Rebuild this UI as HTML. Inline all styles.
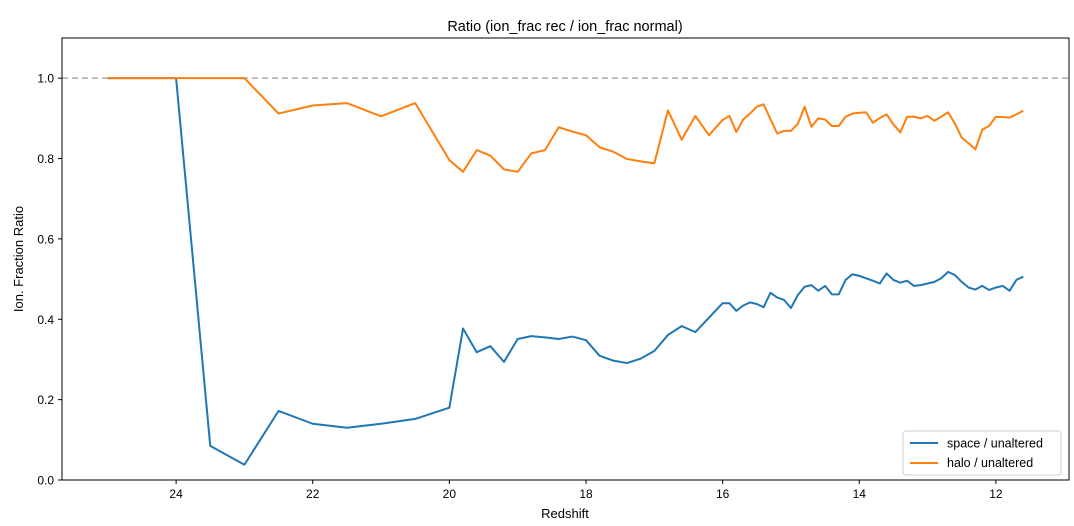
<!DOCTYPE html>
<html><head><meta charset="utf-8"><style>
body{margin:0;background:#fff;}
svg{display:block;font-family:"Liberation Sans","DejaVu Sans",sans-serif;}
</style></head><body>
<svg id="chart" width="1074" height="526" viewBox="0 0 1074 526" xmlns="http://www.w3.org/2000/svg">
<rect width="1074" height="526" fill="#fff"/>
<text x="565" y="31" text-anchor="middle" font-size="14.5">Ratio (ion_frac rec / ion_frac normal)</text>
<g id="axes"></g>
<g id="plot"></g>
<rect x="62" y="38" width="1007" height="442" fill="none" stroke="#000" stroke-width="1"/>
<text x="565" y="518" text-anchor="middle" font-size="13">Redshift</text>
<text transform="translate(23,259) rotate(-90)" text-anchor="middle" font-size="13">Ion. Fraction Ratio</text>
<g>
<rect x="903" y="431" width="158" height="44" rx="3" fill="#fff" stroke="#ccc" opacity="0.9"/>
<line x1="910" y1="443" x2="938" y2="443" stroke="#1f77b4" stroke-width="2"/>
<text x="947" y="447.5" font-size="12.5">space / unaltered</text>
<line x1="910" y1="463" x2="938" y2="463" stroke="#ff7f0e" stroke-width="2"/>
<text x="947" y="467" font-size="12.5">halo / unaltered</text>
</g>
</svg>
<script>
const redshift=[25,24.5,24,23.5,23,22.5,22,21.5,21,20.5,20,
19.8,19.6,19.4,19.2,19.0,18.8,18.6,18.4,18.2,18.0,17.8,17.6,17.4,17.2,17.0,16.8,16.6,16.4,16.2,
16.0,15.9,15.8,15.7,15.6,15.5,15.4,15.3,15.2,15.1,15.0,14.9,14.8,14.7,14.6,14.5,14.4,14.3,14.2,14.1,
14.0,13.9,13.8,13.7,13.6,13.5,13.4,13.3,13.2,13.1,13.0,12.9,12.8,12.7,12.6,12.5,12.4,12.3,12.2,12.1,
12.0,11.9,11.8,11.7,11.6];
const spaceRatio=[1,1,1,0.085,0.038,0.172,0.14,0.13,0.14,0.152,0.18,
0.377,0.318,0.333,0.294,0.351,0.358,0.355,0.351,0.357,0.348,0.309,0.297,0.291,0.302,0.321,0.361,0.383,0.368,0.404,
0.44,0.44,0.421,0.434,0.442,0.438,0.43,0.466,0.454,0.448,0.428,0.46,0.481,0.485,0.471,0.483,0.462,0.462,0.498,0.512,
0.508,0.502,0.496,0.489,0.514,0.498,0.491,0.496,0.483,0.485,0.489,0.493,0.502,0.518,0.51,0.493,0.479,0.474,0.483,0.473,
0.479,0.483,0.471,0.498,0.506];
const haloRatio=[1,1,1,1,1,0.912,0.932,0.938,0.905,0.938,0.796,
0.767,0.821,0.807,0.773,0.767,0.813,0.821,0.878,0.867,0.858,0.828,0.817,0.799,0.793,0.788,0.92,0.847,0.906,0.858,
0.896,0.906,0.866,0.897,0.912,0.929,0.935,0.898,0.862,0.869,0.869,0.886,0.929,0.879,0.9,0.897,0.881,0.881,0.904,0.912,
0.914,0.915,0.889,0.901,0.91,0.885,0.865,0.904,0.904,0.9,0.906,0.894,0.904,0.915,0.887,0.852,0.838,0.823,0.872,0.881,
0.904,0.903,0.902,0.91,0.919];
const xTicks=[24,22,20,18,16,14,12];
const yTicks=[0,0.2,0.4,0.6,0.8,1.0];
const refLine=[1.0];

const NS="http://www.w3.org/2000/svg";
const L=62,R=1069,T=38,B=480;
const xMin=25.67,xMax=10.93,yMin=0,yMax=1.1;
function xs(v){return L+(xMin-v)/(xMin-xMax)*(R-L);}
function ys(v){return B-(v-yMin)/(yMax-yMin)*(B-T);}
function mk(tag,attrs,parent){const e=document.createElementNS(NS,tag);for(const k in attrs)e.setAttribute(k,attrs[k]);parent.appendChild(e);return e;}
const axes=document.getElementById('axes'),plot=document.getElementById('plot');
xTicks.forEach(t=>{
  const x=xs(t);
  const tk=mk('line',{x1:x,x2:x,y1:B,y2:B+4,stroke:'#000'},axes);
  
  
  const lb=mk('text',{x:x,y:B+18,'text-anchor':'middle','font-size':'12'},axes);
  
  
  lb.textContent=String(t);
});
yTicks.forEach(t=>{
  const y=ys(t);
  const tk=mk('line',{x1:L-4,x2:L,y1:y,y2:y,stroke:'#000'},axes);
  
  
  const lb=mk('text',{x:L-8,y:y+4.5,'text-anchor':'end','font-size':'12'},axes);
  
  
  lb.textContent=t.toFixed(1);
});
refLine.forEach(v=>{
  const ln=mk('line',{x1:L,x2:R,y1:ys(v),y2:ys(v),stroke:'#aaa','stroke-width':1.5,'stroke-dasharray':'6,4'},plot);
  
  
});
function series(vals,color,name){
  const d=vals.map((v,i)=>(i?'L':'M')+xs(redshift[i]).toFixed(2)+','+ys(v).toFixed(2)).join(' ');
  const p=mk('path',{d:d,fill:'none',stroke:color,'stroke-width':2,'stroke-linejoin':'round'},plot);
  
  
}
series(spaceRatio,'#1f77b4','space-unaltered-line');
series(haloRatio,'#ff7f0e','halo-unaltered-line');
</script>
</body></html>
